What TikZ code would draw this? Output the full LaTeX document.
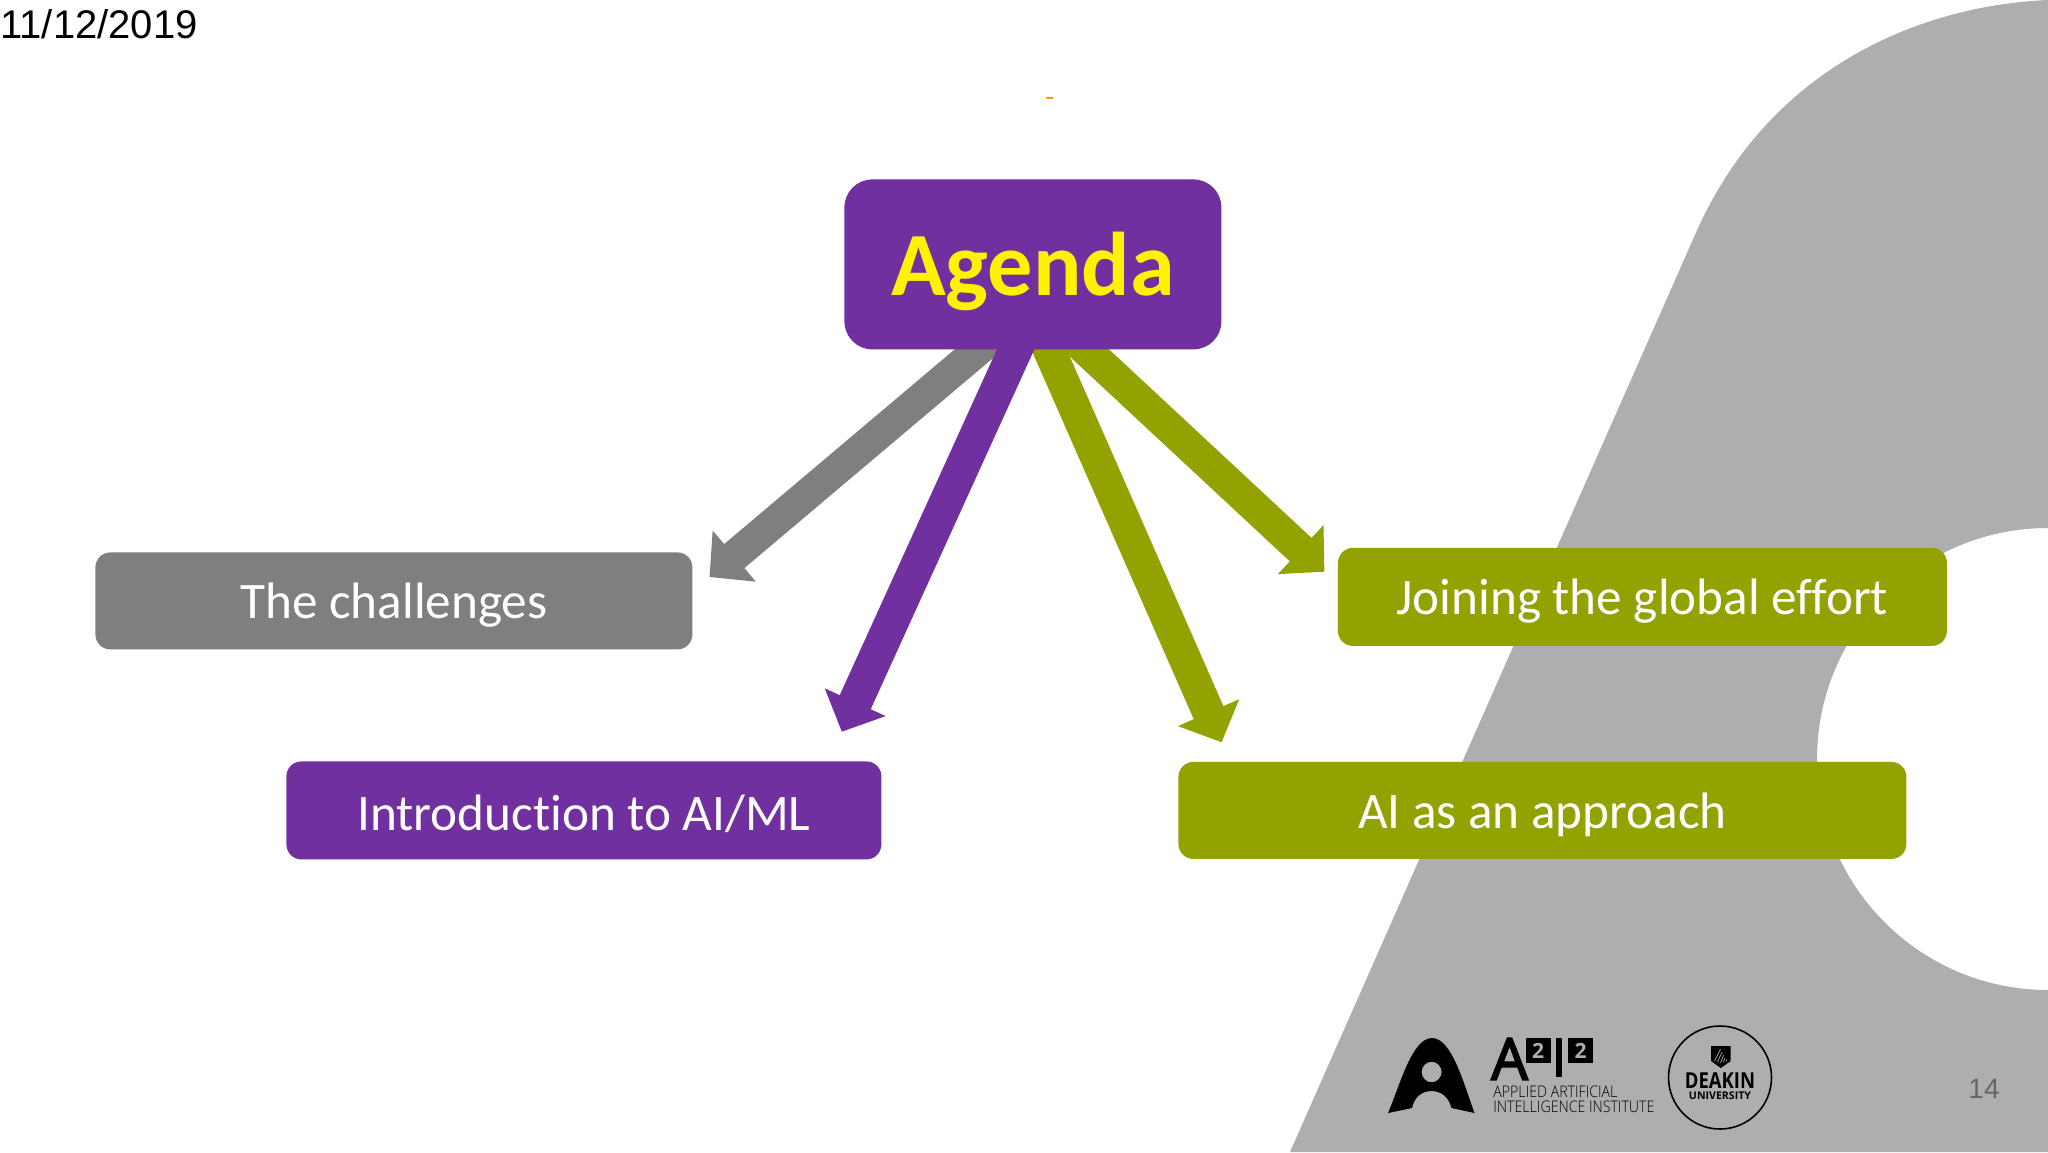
\documentclass[tikz,border=0pt]{standalone}
\usepackage{fontspec}
\setmainfont[Ligatures=NoCommon]{Carlito}
\newfontfamily\arialf{Liberation Sans}
\newfontfamily\logof{Open Sans}
\newfontfamily\logom[FakeBold=3]{Open Sans}
\newfontfamily\logolight[FakeStretch=0.885]{Open Sans Light}
\newfontfamily\deakf[FakeStretch=0.84]{Open Sans}
\usetikzlibrary{arrows.meta}
\definecolor{pur}{HTML}{7030A0}
\definecolor{olv}{HTML}{92A200}
\definecolor{gry}{HTML}{7F7F7F}
\definecolor{blob}{HTML}{AEADAF}
\newcommand{\fs}[1]{\fontsize{#1}{#1}\selectfont}
\newcommand{\dn}[2]{\raisebox{-#1}[\height][\depth]{#2}}
\tikzset{
 box/.style={rounded corners=7.5pt,inner sep=0pt,anchor=north west,text=white,align=center,font=\fs{25.6pt}},
 arr/.style={line width=#1,-{Triangle[length=16.2pt,width=32.5pt]}},
}
\begin{document}
\begin{tikzpicture}[x=0.5pt,y=-0.5pt]
\useasboundingbox (0,0) rectangle (2048,1152);
\fill[white] (0,0) rectangle (2048,1152);
% background shape
\fill[blob] (2048,0) .. controls (1930,5) and (1775,60) .. (1698,228) -- (1290,1152) -- (2048,1152) -- (2048,990)
  arc[start angle=90,end angle=270,radius=231] -- cycle;
% nodes
\node[box,fill=gry,minimum width=298.5pt,minimum height=48.5pt] (ch) at (95,552) {\dn{2pt}{The challenges}};
\node[box,fill=pur,minimum width=297.5pt,minimum height=49pt] (intro) at (286,761) {\dn{1.5pt}{Introduction to AI/ML}};
\node[box,fill=olv,minimum width=304.5pt,minimum height=49pt] (join) at (1337.5,547.5) {\dn{2pt}{Joining the global effort}};
\node[box,fill=olv,minimum width=364pt,minimum height=48.5pt] (appr) at (1178,761.5) {\dn{2pt}{AI as an approach}};
% free ends
\coordinate (tg) at (709.5,577);
\coordinate (tp) at (841.8,731.7);
\coordinate (ta) at (1221.6,742.3);
\coordinate (tj) at (1324.4,571.7);
\coordinate (sg) at (1013.8,320);
\coordinate (sp) at (1029,320);
\coordinate (sa) at (1036,320);
\coordinate (sj) at (1054,320);
\draw[arr=15.7pt,gry] (sg) -- (tg);
\draw[arr=16pt,olv] (sj) -- (tj);
\draw[arr=16.2pt,olv] (sa) -- (ta);
\draw[arr=17pt,pur] (sp) -- (tp);
\node[rounded corners=14pt,fill=pur,inner sep=0pt,minimum width=188.5pt,minimum height=85pt,anchor=north west,text=yellow,font=\fs{45.2pt}\bfseries] (ag) at (844,179) {\dn{3.3pt}{Agenda}};
% date
\node[anchor=west,inner sep=0pt,font=\arialf\fs{20pt}] (date) at (0,24) {11/12/2019};
% orange mark
\fill[orange!80!yellow] (1046,96.5) rectangle (1053,98.5);
% page number
\node[anchor=center,inner sep=0pt,text=black!60,font=\arialf\fs{14pt}] (pg) at (1984,1089) {14};
% logo
\fill[black,even odd rule] (1388,1113) .. controls (1400,1085) and (1412,1038) .. (1432,1038)
  .. controls (1452,1038) and (1464,1085) .. (1474.5,1113) -- (1451.5,1108)
  .. controls (1449,1098) and (1442,1091) .. (1431.6,1091)
  .. controls (1421,1091) and (1414,1098) .. (1412,1108) -- cycle
  (1431.6,1072) ellipse[x radius=10,y radius=10.3];
\node[inner sep=0pt,font=\logom\fs{29pt},anchor=center] (aa) at (1509.5,1059) {A};
\fill[black] (1525.7,1038) rectangle (1550.7,1063);
\node[inner sep=0pt,text=blob,font=\logof\bfseries\fs{10.5pt}] (n2a) at (1538.2,1050.5) {2};
\fill[black] (1556,1038) rectangle (1562,1077);
\fill[black] (1568,1038) rectangle (1593,1063);
\node[inner sep=0pt,text=blob,font=\logof\bfseries\fs{10.5pt}] (n2b) at (1580.5,1050.5) {2};
\node[inner sep=0pt,anchor=west,align=left,font=\logolight\fontsize{8pt}{7.8pt}\selectfont] (l1) at (1493,1099.3) {APPLIED ARTIFICIAL\\INTELLIGENCE INSTITUTE};
\draw[line width=0.8pt,black] (1720,1077.5) circle[radius=51.5];
\fill[black] (1711,1046) -- (1730.7,1046) -- (1730.7,1061) -- (1720.8,1068) -- (1711,1061) -- cycle;
\draw[blob,line width=0.35pt] (1714.5,1061) -- (1720.5,1049) (1717.5,1062) -- (1722,1052) (1720.5,1063) -- (1723.5,1055) (1723.5,1062) -- (1725,1058) (1726,1061) -- (1726.7,1059.5);
\node[inner sep=0pt,font=\deakf\bfseries\fs{11pt}] (dk) at (1720,1081) {DEAKIN};
\node[inner sep=0pt,font=\logof\bfseries\fs{5.3pt}] (un) at (1720,1095.5) {UNIVERSITY};
\end{tikzpicture}
\end{document}
